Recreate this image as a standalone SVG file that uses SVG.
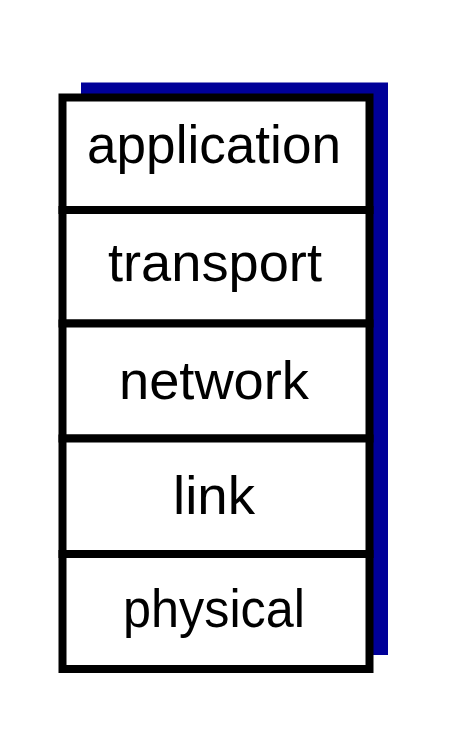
<svg xmlns="http://www.w3.org/2000/svg" width="460" height="736" viewBox="0 0 460 736">
<style>
.layer{fill:#ffffff;stroke:#000000;stroke-width:8}
.lbl{font-family:"Liberation Sans",Arial,sans-serif;font-size:54px;fill:#000000;text-anchor:middle}
</style>
<rect width="460" height="736" fill="#ffffff"/>
<rect id="shadow" x="81" y="82.5" width="307" height="572.5" fill="#000099"/>
<g id="application">
<rect class="layer" x="62.5" y="97.5" width="307" height="112.5"/>
<text class="lbl" x="214" y="163" textLength="254" lengthAdjust="spacingAndGlyphs">application</text>
</g>
<g id="transport">
<rect class="layer" x="62.5" y="210" width="307" height="113.5"/>
<text class="lbl" x="215" y="281" textLength="214" lengthAdjust="spacingAndGlyphs">transport</text>
</g>
<g id="network">
<rect class="layer" x="62.5" y="323.5" width="307" height="115"/>
<text class="lbl" x="214" y="399" textLength="190" lengthAdjust="spacingAndGlyphs">network</text>
</g>
<g id="link">
<rect class="layer" x="62.5" y="438.5" width="307" height="115.5"/>
<text class="lbl" x="214" y="514" textLength="82" lengthAdjust="spacingAndGlyphs">link</text>
</g>
<g id="physical">
<rect class="layer" x="62.5" y="554" width="307" height="115"/>
<text class="lbl" x="214" y="627" textLength="182" lengthAdjust="spacingAndGlyphs">physical</text>
</g>
<g id="connectors"/>
</svg>
